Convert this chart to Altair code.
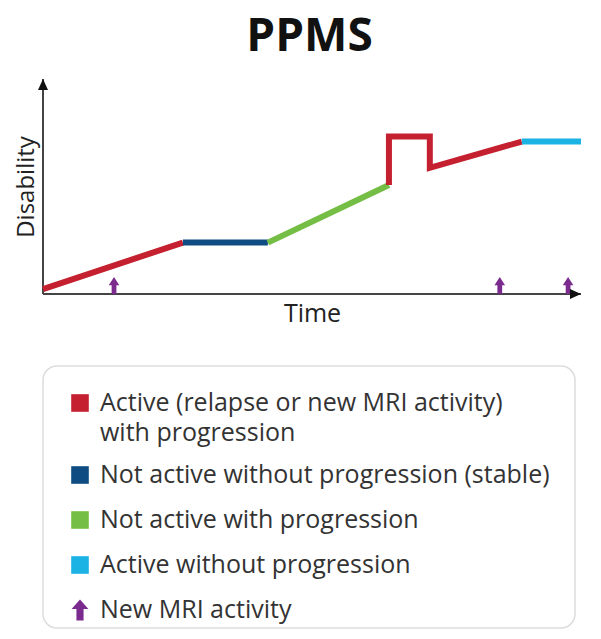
import altair as alt
import pandas as pd

# ---------------- data ----------------
# disability course: one row per vertex, grouped into coloured segments
seg_id = [1, 1, 2, 2, 3, 3, 4, 4, 4, 4, 4, 5, 5]
seg_cat = ["active_prog", "active_prog",
           "stable", "stable",
           "notactive_prog", "notactive_prog",
           "active_prog", "active_prog", "active_prog", "active_prog", "active_prog",
           "active_noprog", "active_noprog"]
time = [0, 26.0, 26.0, 41.8, 41.8, 64.3, 64.3, 64.3, 71.9, 71.9, 89.0, 89.0, 100]
disability = [2.3, 23.9, 23.9, 23.9, 23.9, 50.7, 50.7, 73.2, 73.2, 58.7, 70.9, 70.9, 70.9]

# new MRI activity markers
mri_time = [13.2, 84.9, 97.6]
mri_level = [3.9, 3.9, 3.9]

# legend entries
cat_keys = ["active_prog", "stable", "notactive_prog", "active_noprog"]
cat_rows = [0, 1.6, 2.6, 3.6]
legend_lines = ["Active (relapse or new MRI activity)", "with progression",
                "Not active without progression (stable)",
                "Not active with progression",
                "Active without progression",
                "New MRI activity"]
legend_line_rows = [0, 0.67, 1.6, 2.6, 3.6, 4.6]
mri_row = [4.6]

palette = ["#C4202F", "#0E4C82", "#75BE45", "#1BB2E4"]
purple = "#7B2A8E"
FONT = "Open Sans"

# ---------------- tables ----------------
line_df = pd.DataFrame({"seg": seg_id, "cat": seg_cat, "time": time,
                        "disability": disability, "step": list(range(len(time)))})
mri_df = pd.DataFrame({"time": mri_time, "disability": mri_level})
axis_df = pd.DataFrame({"time": [0, 0], "disability": [0, 0],
                        "time_end": [100, 0], "disability_end": [0, 100]})
head_df = pd.DataFrame({"time": [0, 100], "disability": [100, 0], "dir": ["up", "right"]})
sym_df = pd.DataFrame({"cat": cat_keys, "row": cat_rows})
txt_df = pd.DataFrame({"label": legend_lines, "row": legend_line_rows})
mri_leg_df = pd.DataFrame({"row": mri_row})

color_scale = alt.Scale(domain=cat_keys, range=palette)
xs = alt.Scale(domain=[0, 100], nice=False, zero=False)
ys = alt.Scale(domain=[0, 100], nice=False, zero=False)
X = alt.X("time:Q", scale=xs, title="Time")
Y = alt.Y("disability:Q", scale=ys, title="Disability")

ARROW_PLOT = "M0,-1 L0.62,-0.05 L0.28,-0.05 L0.28,1 L-0.28,1 L-0.28,-0.05 L-0.62,-0.05 Z"
ARROW_LEG = "M0,-1 L0.8,-0.1 L0.34,-0.1 L0.34,1 L-0.34,1 L-0.34,-0.1 L-0.8,-0.1 Z"
HEAD_UP = "M0,0 L0.5,1.1 L-0.5,1.1 Z"
HEAD_RIGHT = "M0,0 L-1.1,-0.5 L-1.1,0.5 Z"

axes = alt.Chart(axis_df).mark_rule(color="#444", strokeWidth=2).encode(
    x=X, x2="time_end:Q", y=Y, y2="disability_end:Q")

heads = alt.Chart(head_df).mark_point(filled=True, opacity=1, size=400, color="#111").encode(
    x=X, y=Y,
    shape=alt.Shape("dir:N", scale=alt.Scale(domain=["up", "right"], range=[HEAD_UP, HEAD_RIGHT]),
                    legend=None))

lines = alt.Chart(line_df).mark_line(strokeWidth=6, strokeJoin="miter", strokeCap="butt").encode(
    x=X, y=Y,
    color=alt.Color("cat:N", scale=color_scale, legend=None),
    detail="seg:N",
    order="step:Q")

mri = alt.Chart(mri_df).mark_point(filled=True, opacity=1, size=289, shape=ARROW_PLOT,
                                   color=purple).encode(x=X, y=Y)

plot = alt.layer(axes, lines, mri, heads).properties(width=538, height=215)

# ---------------- legend panel ----------------
LY = alt.Y("row:Q", scale=alt.Scale(domain=[-0.822, 5.0], reverse=True, nice=False, zero=False),
           axis=None)

leg_sq = alt.Chart(sym_df).mark_square(size=310, opacity=1).encode(
    x=alt.value(37), y=LY,
    color=alt.Color("cat:N", scale=color_scale, legend=None))

leg_arrow = alt.Chart(mri_leg_df).mark_point(filled=True, opacity=1, size=441, shape=ARROW_LEG,
                                             color=purple).encode(x=alt.value(37), y=LY)

leg_txt = alt.Chart(txt_df).mark_text(align="left", baseline="middle", fontSize=25, font=FONT,
                                      color="#333").encode(
    x=alt.value(57), y=LY, text="label:N")

legend = alt.layer(leg_sq, leg_arrow, leg_txt).properties(
    width=532, height=262,
    view=alt.ViewBackground(stroke="#dddddd", strokeWidth=1.5, cornerRadius=14, fill="white"))

chart = alt.vconcat(plot, legend, spacing=39).properties(
    title=alt.TitleParams("PPMS", fontSize=46, fontWeight="bold", font=FONT, color="#111",
                          anchor="middle", offset=17, dx=6),
    padding={"left": 6, "top": 6, "right": 0, "bottom": 0},
).configure_view(stroke=None).configure_axis(
    domain=False, ticks=False, labels=False, grid=False,
    titleFont=FONT, titleFontSize=24, titleFontWeight="normal", titleColor="#222"
).configure_axisX(titlePadding=7, titleFontSize=25).configure_axisY(titlePadding=5)

chart.save("out.html", embed_options={"renderer": "svg", "actions": False})
